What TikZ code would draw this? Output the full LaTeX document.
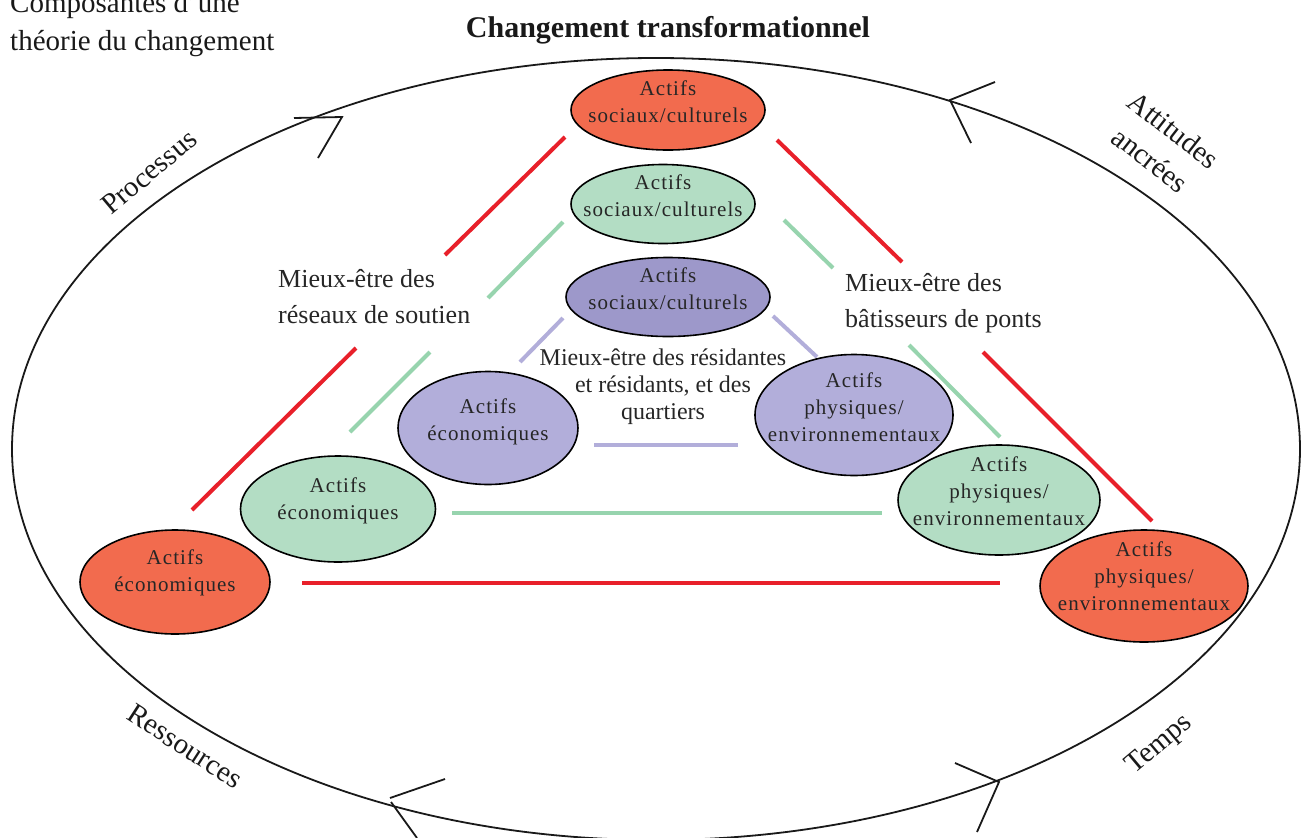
\documentclass[tikz,border=0pt]{standalone}
\usepackage{fontspec}
\setmainfont{Liberation Serif}
\usetikzlibrary{shapes.geometric}
\definecolor{redfill}{HTML}{F26B4E}
\definecolor{redline}{HTML}{E8202A}
\definecolor{greenfill}{HTML}{B3DDC4}
\definecolor{greenline}{HTML}{97D4AE}
\definecolor{purpdark}{HTML}{9D98CA}
\definecolor{purplight}{HTML}{B2AEDA}
\newcommand\asstext[2][0pt]{\makebox[0pt]{\raisebox{#1}{\smash{\begin{tabular}{@{}c@{}}#2\end{tabular}}}}}
\tikzset{
  asset/.style={ellipse, draw=black, line width=1.6pt, inner sep=0pt,
     font=\fontsize{21}{27}\selectfont\addfontfeature{LetterSpace=5}, text=black!85},
  redasset/.style={asset, fill=redfill},
  greenasset/.style={asset, fill=greenfill},
  purpasset/.style={asset, fill=purpdark},
  lpurpasset/.style={asset, fill=purplight},
  redlink/.style={draw=redline, line width=4pt},
  greenlink/.style={draw=greenline, line width=4pt},
  purplink/.style={draw=purplight, line width=4pt},
  arrowarm/.style={draw=black!90, line width=1.8pt},
  label/.style={font=\fontsize{26}{36}\selectfont, text=black!85},
  around/.style={font=\fontsize{29}{38}\selectfont, text=black!90, align=center},
}
\begin{document}
\begin{tikzpicture}[x=1pt,y=-1pt]
\useasboundingbox (0,0) rectangle (1304,838);
% big ellipse
\draw[black!90, line width=1.8pt] (656,449) ellipse [x radius=644, y radius=391];
% arrows on the ellipse
\coordinate (a1) at (342,117);
\draw[arrowarm] (294,118) -- (a1) -- (318,158);
\coordinate (a2) at (950,100);
\draw[arrowarm] (995,82) -- (a2) -- (971,143);
\coordinate (a3) at (999,782);
\draw[arrowarm] (955,763) -- (a3) -- (977,832);
\coordinate (a4) at (390,798);
\draw[arrowarm] (445,779) -- (a4);
\draw[arrowarm] (391,802) -- (417,838);
% links
\draw[redlink] (445,255) -- (565,137);
\draw[redlink] (192,510) -- (356,348);
\draw[redlink] (302,583) -- (1000,583);
\draw[redlink] (777,140) -- (902,262);
\draw[redlink] (983,352) -- (1152,521);
\draw[greenlink] (488,298) -- (563,222);
\draw[greenlink] (350,432) -- (430,352);
\draw[greenlink] (452,513) -- (882,513);
\draw[greenlink] (784,220) -- (833,268);
\draw[greenlink] (909,345) -- (1000,437);
\draw[purplink] (520,362) -- (563,318);
\draw[purplink] (594,445) -- (738,445);
\draw[purplink] (773,316) -- (817,357);
% asset ellipses
\node[redasset, minimum width=194pt, minimum height=80pt] (rt) at (668,110) {\asstext[2pt]{Actifs\\sociaux/culturels}};
\node[greenasset, minimum width=184pt, minimum height=79pt] (gt) at (663,204) {\asstext[2pt]{Actifs\\sociaux/culturels}};
\node[purpasset, minimum width=204pt, minimum height=79pt] (pt) at (668,297) {\asstext[2pt]{Actifs\\sociaux/culturels}};
\node[lpurpasset, minimum width=180pt, minimum height=113pt] (pl) at (488,428) {\asstext[3pt]{Actifs\\économiques}};
\node[lpurpasset, minimum width=198pt, minimum height=121pt] (pr) at (854,415) {\asstext[1pt]{Actifs\\physiques/\\environnementaux}};
\node[greenasset, minimum width=195pt, minimum height=106pt] (gl) at (338,509) {\asstext[7pt]{Actifs\\économiques}};
\node[greenasset, minimum width=202pt, minimum height=110pt] (gr) at (999,500) {\asstext[3pt]{Actifs\\physiques/\\environnementaux}};
\node[redasset, minimum width=190pt, minimum height=104pt] (rl) at (175,582) {\asstext[8pt]{Actifs\\économiques}};
\node[redasset, minimum width=208pt, minimum height=112pt] (rr) at (1144,586) {\asstext[5pt]{Actifs\\physiques/\\environnementaux}};
% labels
\node[label, anchor=west, align=left, inner sep=0pt] (wl) at (278,297) {Mieux-être des\\réseaux de soutien};
\node[label, anchor=west, align=left, inner sep=0pt] (wr) at (845,303) {Mieux-être des\\bâtisseurs de ponts};
\node[font=\fontsize{24}{27}\selectfont, text=black!85, align=center] (wc) at (663,387) {Mieux-être des résidantes\\et résidants, et des\\quartiers};
% title and corner text
\node[font=\bfseries\fontsize{30}{32}\selectfont, text=black!90] (title) at (668,30) {Changement transformationnel};
\node[font=\fontsize{29}{38}\selectfont, text=black!90, anchor=south west, align=left, inner sep=0pt] (corner) at (10,57) {Composantes d'une\\théorie du changement};
% around labels
\node[around, rotate=40] (proc) at (149,172) {Processus};
\node[around, rotate=-38] (att) at (1162,145) {Attitudes\\ancrées};
\node[around, rotate=-33] (res) at (185,746) {Ressources};
\node[around, rotate=40] (tmp) at (1160,745) {Temps};
\end{tikzpicture}
\end{document}
